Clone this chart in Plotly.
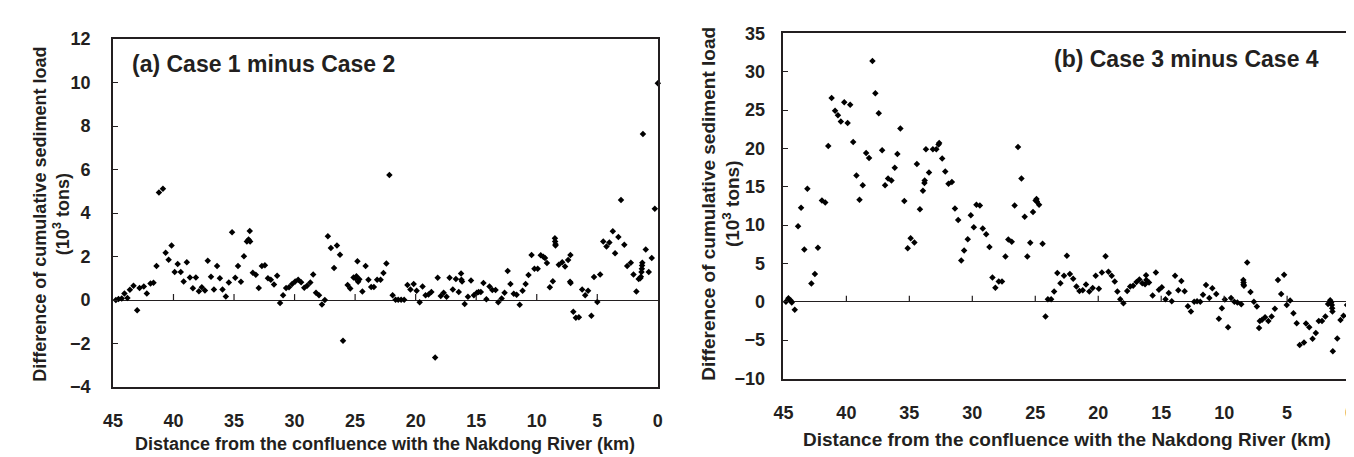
import plotly.graph_objects as go

# ---------------- data ----------------
km_a = [44.76, 44.54, 44.27, 44.05, 43.8, 43.6, 43.3, 43.0, 42.8, 42.45, 42.2, 41.9, 41.65, 41.4,
        41.2, 40.87, 40.65, 40.4, 40.16, 39.9, 39.65, 39.4, 39.16, 38.9, 38.64, 38.4, 38.15, 37.9,
        37.66, 37.4, 37.17, 36.9, 36.66, 36.4, 36.17, 35.95, 35.68, 35.43, 35.16, 34.9, 34.67, 34.43,
        34.18, 33.94, 33.8, 33.7, 33.67, 33.45, 33.2, 32.96, 32.7, 32.45, 32.2, 31.96, 31.7, 31.44,
        31.2, 30.95, 30.7, 30.46, 30.2, 29.95, 29.7, 29.46, 29.2, 28.97, 28.7, 28.46, 28.23, 27.98,
        27.74, 27.5, 27.25, 27.0, 26.74, 26.5, 26.25, 26.0, 25.62, 25.4, 25.13, 24.97, 24.89, 24.81,
        24.75, 24.65, 24.4, 24.13, 23.9, 23.67, 23.45, 23.18, 22.9, 22.66, 22.42, 22.17, 21.9, 21.66,
        21.44, 21.2, 20.95, 20.68, 20.43, 20.16, 19.92, 19.67, 19.43, 19.18, 18.94, 18.7, 18.39,
        18.18, 17.93, 17.69, 17.45, 17.2, 16.93, 16.68, 16.44, 16.25, 16.22, 16.17, 15.95, 15.68,
        15.43, 15.19, 14.95, 14.8, 14.62, 14.4, 14.16, 13.9, 13.67, 13.4, 13.18, 12.9, 12.66, 12.4,
        12.17, 11.9, 11.66, 11.41, 11.17, 10.92, 10.68, 10.43, 10.19, 9.92, 9.67, 9.46, 9.32, 9.16,
        8.92, 8.67, 8.5, 8.48, 8.45, 8.45, 8.18, 7.9, 7.66, 7.41, 7.22, 7.25, 7.2, 6.98, 6.77, 6.52,
        6.25, 6.0, 5.76, 5.49, 5.27, 5.0, 4.76, 4.51, 4.24, 4.0, 3.72, 3.53, 3.26, 3.04, 2.77, 2.53,
        2.23, 2.01, 1.77, 1.58, 1.45, 1.4, 1.35, 1.32, 1.3, 1.28, 1.23, 1.0, 0.75, 0.5, 0.25, 0.0]
diff_a = [0.0, 0.05, 0.07, 0.3, 0.1, 0.47, 0.66, -0.47, 0.56, 0.63, 0.3, 0.76, 0.8, 1.57,
          4.95, 5.12, 2.18, 1.85, 2.51, 1.29, 1.66, 1.29, 0.85, 1.74, 1.04, 0.54, 1.04, 0.41,
          0.59, 0.44, 1.81, 1.07, 0.49, 1.57, 1.0, 0.49, 0.16, 0.81, 3.12, 1.03, 1.57, 0.84,
          2.01, 2.69, 2.79, 3.18, 2.69, 1.26, 1.16, 0.56, 1.57, 1.6, 1.0, 0.93, 0.72, 1.12,
          -0.13, 0.22, 0.56, 0.59, 0.74, 0.85, 0.93, 0.82, 0.57, 0.66, 0.81, 1.18, 0.34, 0.22,
          -0.2, 0.0, 2.93, 2.4, 1.47, 2.51, 2.09, -1.87, 0.69, 0.53, 1.04, 1.0, 1.1, 1.78,
          0.84, 0.96, 0.4, 1.57, 0.93, 0.6, 0.6, 0.93, 0.93, 1.25, 1.68, 5.75, 0.22, 0.01,
          0.01, 0.01, 0.01, 0.69, 0.49, 0.74, 0.43, -0.1, 0.63, 0.22, 0.26, 0.37, -2.64,
          1.03, 0.19, 0.34, 0.15, 1.03, 0.49, 0.97, 0.37, 1.22, 0.93, 0.85, -0.18, 0.15,
          0.9, 0.22, 0.34, 0.37, 0.37, 0.78, 0.04, 0.63, 0.46, 0.46, -0.1, 0.07, 0.34, 1.34,
          0.74, 0.29, 0.25, -0.21, 0.43, 0.74, 1.15, 2.07, 1.44, 1.44, 2.06, 1.99, 1.93, 1.71,
          0.59, 0.87, 2.84, 2.69, 2.57, 2.51, 1.63, 1.74, 1.54, 1.84, 2.07, 0.84, 0.78, -0.54, -0.81, -0.79,
          0.49, 0.22, 0.43, -0.72, 1.06, -0.09, 1.18, 2.69, 2.46, 2.65, 3.16, 2.15, 2.9, 4.6, 2.54, 1.57,
          1.72, 1.18, 0.4, 0.97, 1.0, 1.07, 1.29, 1.44, 1.59, 1.72, 7.63, 2.32, 1.29, 1.93, 4.2, 9.97]

km_b = [44.8, 44.6, 44.42, 44.34, 44.1, 43.84, 43.6, 43.34, 43.1, 42.78, 42.5, 42.26, 41.94, 41.68,
        41.44, 41.17, 40.9, 40.67, 40.44, 40.17, 39.9, 39.7, 39.46, 39.2, 38.96, 38.7, 38.43, 38.2,
        37.93, 37.7, 37.43, 37.16, 36.93, 36.69, 36.42, 36.16, 35.95, 35.71, 35.4, 35.13, 34.9, 34.6,
        34.4, 34.16, 33.92, 33.8, 33.78, 33.68, 33.44, 33.13, 32.86, 32.68, 32.63, 32.39, 32.15, 31.89,
        31.62, 31.38, 31.12, 30.88, 30.65, 30.36, 30.12, 29.88, 29.67, 29.4, 29.17, 28.9, 28.64, 28.4,
        28.17, 27.9, 27.64, 27.37, 27.14, 26.87, 26.64, 26.37, 26.1, 25.84, 25.63, 25.4, 25.18, 24.97,
        24.9, 24.87, 24.7, 24.42, 24.19, 24.0, 23.74, 23.5, 23.25, 23.0, 22.72, 22.49, 22.25, 21.99,
        21.73, 21.49, 21.23, 20.97, 20.71, 20.44, 20.2, 19.95, 19.71, 19.42, 19.19, 18.93, 18.69,
        18.48, 18.25, 18.0, 17.7, 17.46, 17.23, 16.96, 16.73, 16.5, 16.28, 16.2, 16.18, 15.97, 15.68,
        15.42, 15.18, 14.95, 14.66, 14.4, 14.16, 13.9, 13.64, 13.4, 13.14, 12.88, 12.64, 12.38, 12.15,
        11.9, 11.68, 11.44, 11.18, 10.94, 10.63, 10.42, 10.18, 9.95, 9.69, 9.45, 9.19, 8.95, 8.64,
        8.48, 8.46, 8.46, 8.43, 8.17, 7.91, 7.64, 7.4, 7.23, 7.17, 6.99, 6.75, 6.49, 6.23, 5.97, 5.73,
        5.47, 5.24, 5.03, 4.76, 4.5, 4.24, 4.0, 3.66, 3.5, 3.24, 2.98, 2.72, 2.49, 2.23, 1.96, 1.75,
        1.58, 1.5, 1.45, 1.42, 1.4, 1.37, 1.02, 0.76, 0.52, 0.24, 0.0]
diff_b = [0.0, 0.46, 0.17, -0.08, -1.04, 9.86, 12.27, 6.82, 14.73, 2.37, 3.62, 7.03, 13.19, 12.94,
          20.3, 26.58, 24.92, 24.33, 23.5, 26.0, 23.3, 25.67, 20.84, 16.47, 13.31, 15.18, 19.38, 18.76,
          31.4, 27.2, 24.58, 19.76, 15.18, 16.06, 15.8, 17.47, 19.26, 22.59, 13.14, 6.99, 8.28, 7.74,
          17.97, 12.06, 14.48, 15.5, 15.8, 19.88, 16.85, 19.88, 19.88, 20.5, 20.7, 18.68, 16.97, 15.39,
          15.6, 12.15, 10.65, 5.37, 6.7, 8.15, 11.27, 9.73, 12.65, 12.56, 9.57, 8.82, 7.15, 3.16,
          1.83, 2.66, 2.66, 5.9, 8.11, 7.82, 12.56, 20.17, 16.06, 11.1, 5.9, 7.7, 11.7, 13.2,
          13.4, 13.06, 12.65, 7.57, -1.91, 0.33, 0.33, 1.33, 3.74, 2.41, 3.41, 5.99, 3.62, 3.0,
          2.0, 1.41, 1.5, 2.25, 1.33, 1.79, 3.41, 1.71, 3.83, 5.95, 3.91, 3.41, 2.66,
          1.33, 0.33, -0.2, 1.41, 2.0, 2.08, 2.58, 2.91, 2.41, 2.29, 3.45, 2.83, 2.5, 0.83,
          3.83, 1.58, 1.91, 0.33, 1.16, 0.08, 3.41, 1.5, 2.7, 1.37, -0.58, -1.25, 0.0, 0.08,
          0.0, 0.92, 2.2, 0.5, 1.75, 1.0, -2.2, -0.83, 0.29, -3.33, 0.5, 0.0, -0.08, -0.33,
          2.83, 2.5, 2.25, 2.08, 5.12, 1.29, 0.0, -0.62, -3.41, -2.5, -2.33, -2.0, -2.5, -1.91, -0.92, 2.83,
          1.0, 3.54, -0.42, 0.17, -1.5, -2.79, -5.62, -5.32, -2.83, -3.33, -4.83, -4.08, -2.5, -2.5, -1.91, -0.29,
          0.21, -0.08, -0.42, -0.83, -1.25, -6.45, -4.78, -2.37, -1.83, -0.42, -0.08]

x_ticks = [45, 40, 35, 30, 25, 20, 15, 10, 5, 0]
inner_ticks = [40, 35, 30, 25, 20, 15, 10, 5]
y_ticks_a = [-4, -2, 0, 2, 4, 6, 8, 10, 12]
y_ticks_b = [-10, -5, 0, 5, 10, 15, 20, 25, 30, 35]

y_title = "Difference of cumulative sediment load<br>(10<sup>3</sup> tons)"
x_title = "Distance from the confluence with the Nakdong River (km)"
label_a = "(a) Case 1 minus Case 2"
label_b = "(b) Case 3 minus Case 4"

# ---------------- styling ----------------
W, H = 1354, 457
FONT = "Arial, Liberation Sans, sans-serif"
TXT = "#231f20"
LINE = "#231f20"


def px_x(p):
    return p / W


def px_y(p):
    return 1 - p / H


fig = go.Figure()
marker = dict(symbol="diamond", size=5, color="#000000", line=dict(width=0))
fig.add_trace(go.Scatter(x=km_a, y=diff_a, mode="markers", marker=marker,
                         xaxis="x", yaxis="y", showlegend=False, cliponaxis=False))
fig.add_trace(go.Scatter(x=km_b, y=diff_b, mode="markers", marker=marker,
                         xaxis="x2", yaxis="y2", showlegend=False, cliponaxis=False))


def font(size):
    return dict(family=FONT, size=size, color=TXT, weight="bold")


def xaxis(domain, anchor, standoff):
    return dict(domain=domain, anchor=anchor, range=[45, 0], tickvals=x_ticks,
                ticks="", showgrid=False, zeroline=False, showline=True, mirror=True,
                linecolor=LINE, linewidth=1.6, tickfont=font(18),
                ticklabelstandoff=standoff, ticklabeloverflow="allow")


def yaxis(domain, anchor, rng, tv, standoff):
    return dict(domain=domain, anchor=anchor, range=rng, tickvals=tv,
                ticks="inside", ticklen=5, tickwidth=1.2, tickcolor=LINE,
                showgrid=False, zeroline=True, zerolinecolor=LINE, zerolinewidth=1.2,
                showline=True, mirror=True, linecolor=LINE, linewidth=1.6,
                tickfont=font(18), ticklabelstandoff=standoff)


fig.update_layout(
    width=W, height=H,
    margin=dict(l=0, r=0, t=0, b=0),
    paper_bgcolor="white", plot_bgcolor="white",
    font=dict(family=FONT, color=TXT),
    xaxis=xaxis([px_x(96), px_x(647)], "y", 16),
    yaxis=yaxis([px_y(386), px_y(22)], "x", [-4, 12], y_ticks_a, 17),
    xaxis2=xaxis([px_x(774), px_x(1347)], "y2", 17),
    yaxis2=yaxis([px_y(377), px_y(16)], "x2", [-10, 35], y_ticks_b, 13),
)

# tick marks sitting on the zero line
shapes = []
for xr, yr in (("x", "y"), ("x2", "y2")):
    for t in inner_ticks:
        shapes.append(dict(type="line", xref=xr, yref=yr, x0=t, x1=t,
                           ysizemode="pixel", yanchor=0, y0=0, y1=6,
                           line=dict(color=LINE, width=1.2)))
fig.update_layout(shapes=shapes)

# panel labels
fig.add_annotation(text=label_a, xref="paper", yref="paper", x=px_x(113), y=px_y(48),
                   xanchor="left", yanchor="middle", showarrow=False, font=font(23))
fig.add_annotation(text=label_b, xref="paper", yref="paper", x=px_x(1318), y=px_y(43),
                   xanchor="right", yanchor="middle", showarrow=False, font=font(23))

# axis titles
fig.add_annotation(text=y_title, xref="paper", yref="paper", x=px_x(33), y=px_y(205),
                   xanchor="center", yanchor="middle", textangle=-90, showarrow=False,
                   font=font(18))
fig.add_annotation(text=y_title, xref="paper", yref="paper", x=px_x(710), y=px_y(194),
                   xanchor="center", yanchor="middle", textangle=-90, showarrow=False,
                   font=font(19))
fig.add_annotation(text=x_title, xref="paper", yref="paper", x=px_x(371.5), y=px_y(446),
                   xanchor="center", yanchor="middle", showarrow=False, font=font(18))
fig.add_annotation(text=x_title, xref="paper", yref="paper", x=px_x(1060.5), y=px_y(441),
                   xanchor="center", yanchor="middle", showarrow=False, font=font(19))

fig.write_html("out.html")
